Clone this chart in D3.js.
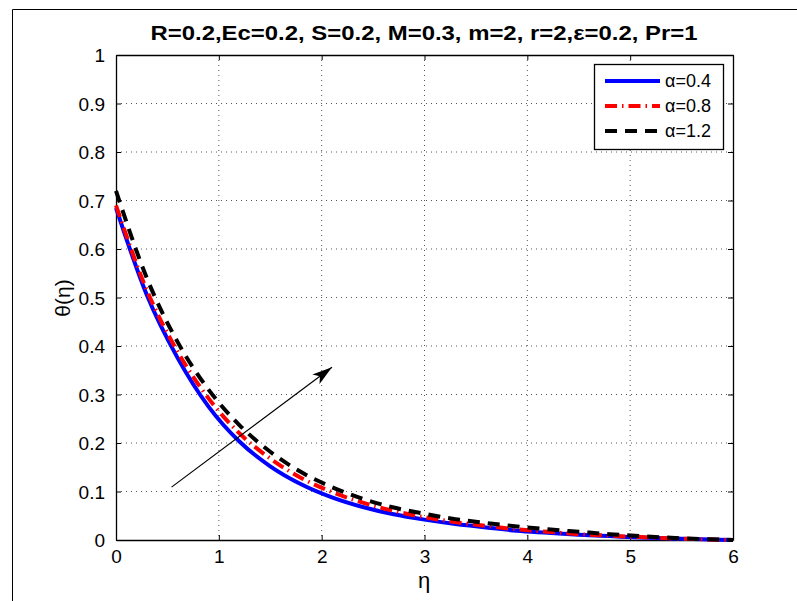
<!DOCTYPE html>
<html lang="en">
<head>
<meta charset="utf-8">
<title>theta profile</title>
<script src="https://cdn.jsdelivr.net/npm/d3@7"></script>
<style>
  body { margin: 0; background: #fff; }
  text { font-family: "Liberation Sans", Arial, sans-serif; }
</style>
</head>
<body>
<script>
// data
var eta = [0, 0.3, 0.6, 0.9, 1.2, 1.5, 1.8, 2.1, 2.4, 2.7, 3.0, 3.3, 3.6, 3.9, 4.2, 4.5, 4.8, 5.1, 5.4, 5.7, 6];
var alpha04 = [0.685, 0.505, 0.375, 0.275, 0.203, 0.152, 0.115, 0.088, 0.068, 0.053, 0.042, 0.033, 0.026, 0.019, 0.015, 0.011, 0.008, 0.005, 0.003, 0.0015, 0];
var alpha08 = [0.69, 0.515, 0.388, 0.292, 0.220, 0.168, 0.128, 0.099, 0.077, 0.060, 0.047, 0.037, 0.029, 0.022, 0.017, 0.012, 0.009, 0.006, 0.0035, 0.0015, 0];
var alpha12 = [0.72, 0.54, 0.408, 0.31, 0.237, 0.182, 0.140, 0.109, 0.085, 0.067, 0.054, 0.043, 0.035, 0.028, 0.022, 0.017, 0.012, 0.008, 0.0045, 0.002, 0];
var labels = ["\u03b1=0.4", "\u03b1=0.8", "\u03b1=1.2"];
var xTicks = [0, 1, 2, 3, 4, 5, 6];
var yTicks = [0, 0.1, 0.2, 0.3, 0.4, 0.5, 0.6, 0.7, 0.8, 0.9, 1];
var arrowFrom = [0.54, 0.109];
var arrowTo = [2.10, 0.356];

var w = 797, h = 601;
var mLeft = 116, mRight = 733, mTop = 55, mBottom = 540;

var svg = d3.select("body").append("svg")
    .attr("width", w)
    .attr("height", h);

// figure frame (only top & left visible)
svg.append("path")
   .attr("d", "M12.5," + h + "V9.5H" + w)
   .attr("fill", "none")
   .attr("stroke", "#000")
   .attr("stroke-width", 1);

var x = d3.scaleLinear().domain([0, 6]).range([mLeft, mRight]);
var y = d3.scaleLinear().domain([0, 1]).range([mBottom, mTop]);

// grid
svg.append("g").selectAll("line")
   .data(xTicks.slice(1, -1))
   .enter().append("line")
   .attr("x1", d => x(d)).attr("x2", d => x(d))
   .attr("y1", mTop).attr("y2", mBottom)
   .attr("stroke", "#555")
   .attr("stroke-width", 1)
   .attr("stroke-dasharray", "1,4");
svg.append("g").selectAll("line")
   .data(yTicks.slice(1, -1))
   .enter().append("line")
   .attr("x1", mLeft).attr("x2", mRight)
   .attr("y1", d => y(d)).attr("y2", d => y(d))
   .attr("stroke", "#555")
   .attr("stroke-width", 1)
   .attr("stroke-dasharray", "1,4");

// axes with inward ticks
var xAxis = d3.axisBottom(x).tickValues(xTicks).tickFormat(d3.format("d")).tickSizeInner(-5).tickSizeOuter(0).tickPadding(10);
var yAxis = d3.axisLeft(y).tickValues(yTicks).tickFormat(d => d === 0 || d === 1 ? d : d3.format(".1f")(d)).tickSizeInner(-5).tickSizeOuter(0).tickPadding(11);

var gx = svg.append("g").attr("transform", "translate(0," + mBottom + ")").call(xAxis);
var gy = svg.append("g").attr("transform", "translate(" + mLeft + ",0)").call(yAxis);
svg.append("g").attr("transform", "translate(0," + mTop + ")")
   .call(d3.axisTop(x).tickValues(xTicks).tickSizeInner(-5).tickSizeOuter(0).tickFormat(""));
svg.append("g").attr("transform", "translate(" + mRight + ",0)")
   .call(d3.axisRight(y).tickValues(yTicks).tickSizeInner(-5).tickSizeOuter(0).tickFormat(""));

svg.selectAll(".domain").attr("stroke", "#000").attr("stroke-width", 1.3);
svg.selectAll(".tick line").attr("stroke", "#000");
gx.selectAll("text").attr("font-size", "19px").attr("fill", "#000");
gy.selectAll("text").attr("font-size", "19px").attr("fill", "#000");
gy.selectAll("text").attr("dy", "0.35em");

// curves
var series = [
  { vals: alpha04, color: "#0000ff", width: 4, dash: null },
  { vals: alpha08, color: "#ff0000", width: 4, dash: "12,5,1.5,5" },
  { vals: alpha12, color: "#000000", width: 4, dash: "12,8" }
];

var line = d3.line()
   .x((d, i) => x(eta[i]))
   .y(d => y(d))
   .curve(d3.curveMonotoneX);

svg.append("g").selectAll("path")
   .data(series)
   .enter().append("path")
   .attr("d", d => line(d.vals))
   .attr("fill", "none")
   .attr("stroke", d => d.color)
   .attr("stroke-width", d => d.width)
   .attr("stroke-dasharray", d => d.dash);

// arrow
svg.append("defs").append("marker")
   .attr("id", "head")
   .attr("viewBox", "0 0 20 12")
   .attr("refX", 20).attr("refY", 6)
   .attr("markerWidth", 20).attr("markerHeight", 12)
   .attr("markerUnits", "userSpaceOnUse")
   .attr("orient", "auto")
   .append("path")
   .attr("d", "M0,0L20,6L0,12L5,6Z")
   .attr("fill", "#000");

svg.append("line")
   .attr("x1", x(arrowFrom[0])).attr("y1", y(arrowFrom[1]))
   .attr("x2", x(arrowTo[0])).attr("y2", y(arrowTo[1]))
   .attr("stroke", "#000")
   .attr("stroke-width", 1.2)
   .attr("marker-end", "url(#head)");

// legend
var lg = svg.append("g");
lg.append("rect")
  .attr("x", 594.5).attr("y", 64.5)
  .attr("width", 129).attr("height", 85)
  .attr("fill", "#fff")
  .attr("stroke", "#000")
  .attr("stroke-width", 1.3);
var rowY = [81, 106, 131];
series.forEach(function(s, i) {
  lg.append("line")
    .attr("x1", 605).attr("x2", 660)
    .attr("y1", rowY[i]).attr("y2", rowY[i])
    .attr("stroke", s.color)
    .attr("stroke-width", s.width)
    .attr("stroke-dasharray", s.dash);
  lg.append("text")
    .attr("x", 665).attr("y", rowY[i])
    .attr("dy", "0.36em")
    .attr("font-size", "18px")
    .text(labels[i]);
});

// title and labels
svg.append("text")
   .attr("x", 424).attr("y", 40)
   .attr("text-anchor", "middle")
   .attr("font-size", "20px")
   .attr("font-weight", "bold")
   .attr("textLength", 547)
   .attr("lengthAdjust", "spacingAndGlyphs")
   .text("R=0.2,Ec=0.2, S=0.2, M=0.3, m=2, r=2,\u03b5=0.2, Pr=1");

svg.append("text")
   .attr("x", 424).attr("y", 588)
   .attr("text-anchor", "middle")
   .attr("font-size", "22px")
   .text("\u03b7");

svg.append("text")
   .attr("transform", "translate(70,298) rotate(-90)")
   .attr("text-anchor", "middle")
   .attr("font-size", "21px")
   .text("\u03b8(\u03b7)");
</script>
</body>
</html>
